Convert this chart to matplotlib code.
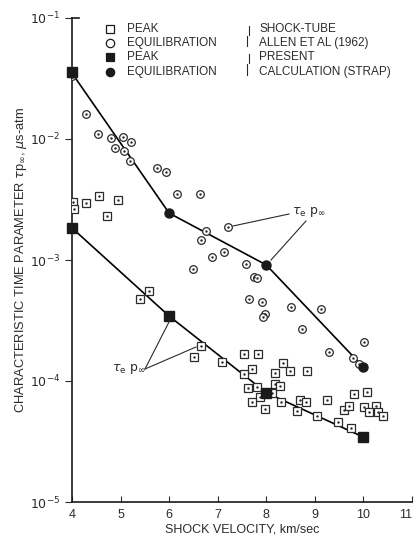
import matplotlib.pyplot as plt
import numpy as np
from matplotlib.lines import Line2D

plt.rcParams['font.family'] = ['Liberation Sans', 'DejaVu Sans']
plt.rcParams['mathtext.fontset'] = 'dejavusans'

ink = '#2b2b2b'

# shock-tube data, Allen et al (1962)
eq_v = [4.0, 4.28, 4.53, 4.80, 5.04, 5.21, 4.89, 5.08, 5.19, 5.74, 5.93,
        6.16, 6.64, 7.22, 6.76, 6.65, 7.12, 6.88, 6.49, 7.58, 7.75, 7.80,
        7.64, 7.91, 8.50, 9.13, 7.97, 7.93, 8.74, 10.01, 9.29, 9.79, 9.91]
eq_t = [0.033, 0.016, 0.0111, 0.0101, 0.0103, 0.0095, 0.0085, 0.0080, 0.0066,
        0.0058, 0.0053, 0.0035, 0.0035, 0.00186, 0.00175, 0.00146, 0.00117,
        0.00105, 0.00084, 0.00093, 0.00073, 0.00071, 0.00048, 0.00045,
        0.00041, 0.00039, 0.00036, 0.00034, 0.00027, 0.00021, 0.000175,
        0.000154, 0.000137]

pk_v = [4.03, 4.04, 4.29, 4.56, 4.95, 4.73, 5.59, 5.41, 6.66, 6.51, 7.54, 7.82,
        7.08, 7.71, 7.55, 8.34, 8.17, 8.49, 8.83, 7.63, 7.80, 8.17, 8.28, 7.87,
        8.12, 7.71, 8.30, 7.97, 8.69, 8.82, 8.64, 9.26, 9.04, 9.48, 9.74, 9.81,
        10.08, 9.61, 9.71, 10.02, 10.26, 10.12, 10.31, 10.40]
pk_t = [0.00303, 0.00262, 0.00294, 0.0034, 0.00313, 0.00231, 0.000554, 0.000476,
        0.000195, 0.000159, 0.000167, 0.000166, 0.000143, 0.000126, 0.000114,
        0.00014, 0.000117, 0.000121, 0.000122, 8.7e-5, 9.0e-5, 9.4e-5, 9.1e-5,
        7.4e-5, 7.9e-5, 6.7e-5, 6.75e-5, 5.9e-5, 7.0e-5, 6.75e-5, 5.65e-5,
        7.0e-5, 5.14e-5, 4.61e-5, 4.11e-5, 7.8e-5, 8.06e-5, 5.75e-5, 6.2e-5,
        6.14e-5, 6.25e-5, 5.58e-5, 5.58e-5, 5.14e-5]

# present calculation (STRAP)
calc_v = [4, 6, 8, 10]
calc_eq = [0.035, 0.00244, 0.00091, 0.00013]
calc_pk = [0.00184, 0.000344, 8.0e-5, 3.44e-5]
# filled square drawn on top of the first equilibration point
top_v = [4]
top_t = [0.036]

fig = plt.figure(figsize=(4.15, 5.37), dpi=100)
W, H = 415.0, 537.0
ax = fig.add_axes([72 / W, 1 - 502 / H, 340 / W, 484 / H])

def fx(px):
    return px / W

def fy(py):
    return 1 - py / H

ax.plot(calc_v, calc_eq, color='black', lw=1.2, zorder=3)
ax.plot(calc_v, calc_pk, color='black', lw=1.2, zorder=3)

ax.plot(eq_v, eq_t, 'o', ms=5.5, mfc='white', mec=ink, mew=0.9, ls='none', zorder=4)
ax.plot(eq_v, eq_t, '.', ms=1.5, color=ink, ls='none', zorder=5)
ax.plot(pk_v, pk_t, 's', ms=5.5, mfc='white', mec=ink, mew=0.9, ls='none', zorder=4)
ax.plot(pk_v, pk_t, '.', ms=1.5, color=ink, ls='none', zorder=5)

ax.plot(calc_v, calc_eq, 'o', ms=6.5, color='#1a1a1a', ls='none', zorder=6, clip_on=False)
ax.plot(calc_v, calc_pk, 's', ms=6.5, color='#1a1a1a', ls='none', zorder=6, clip_on=False)
ax.plot(top_v, top_t, 's', ms=6.5, color='#1a1a1a', ls='none', zorder=7, clip_on=False)

ax.set_yscale('log')
ax.set_xlim(4, 11)
ax.set_ylim(1e-5, 1e-1)
ax.set_xticks(range(4, 12))
ax.set_yticks([1e-5, 1e-4, 1e-3, 1e-2, 1e-1])
ax.set_yticklabels([r'$10^{-5}$', r'$10^{-4}$', r'$10^{-3}$', r'$10^{-2}$', r'$10^{-1}$'])
ax.yaxis.set_minor_locator(plt.NullLocator())
ax.spines['top'].set_visible(False)
ax.spines['right'].set_visible(False)
for s in ['left', 'bottom']:
    ax.spines[s].set_linewidth(1.2)
    ax.spines[s].set_color('#1a1a1a')
ax.tick_params(axis='x', direction='in', length=4, labelsize=9, colors=ink, pad=5)
ax.tick_params(axis='y', direction='out', length=5, labelsize=9, colors=ink)
ax.get_xticklabels()[-1].set_horizontalalignment('right')
ax.plot([4, 4.15], [0.1, 0.1], color='#1a1a1a', lw=1.2, clip_on=False)

ax.set_xlabel('SHOCK VELOCITY, km/sec', fontsize=9, color=ink, labelpad=2)
ax.set_ylabel(r'CHARACTERISTIC TIME PARAMETER $\tau$p$_\infty$, $\mu$s-atm',
              fontsize=9.3, color=ink)
ax.yaxis.set_label_coords(-0.125, 0.5)

# legend drawn by hand
rows = [29, 43, 57, 72]
leg_text = ['PEAK', 'EQUILIBRATION', 'PEAK', 'EQUILIBRATION']
leg_mark = [('s', 'white'), ('o', 'white'), ('s', '#1a1a1a'), ('o', '#1a1a1a')]
for r, t, (m, fc) in zip(rows, leg_text, leg_mark):
    fig.add_artist(Line2D([fx(110)], [fy(r)], marker=m, ms=6, mfc=fc,
                          mec='#1a1a1a', mew=0.9, ls='none'))
    fig.text(fx(127), fy(r), t, fontsize=8.5, color=ink, va='center')
src_text = ['SHOCK-TUBE', 'ALLEN ET AL (1962)', 'PRESENT', 'CALCULATION (STRAP)']
for r, t in zip(rows, src_text):
    fig.text(fx(259), fy(r), t, fontsize=8.5, color=ink, va='center')
for a, b, xo in [(26, 35, 249), (36, 46, 247), (54, 63, 249), (64, 75, 247)]:
    fig.add_artist(Line2D([fx(xo), fx(xo)], [fy(a), fy(b)], color=ink, lw=0.8))

# labels with leaders
fig.text(fx(292), fy(212), r'$\tau_{\rm e}\ \rm p_\infty$', fontsize=9, color=ink, va='center')
fig.add_artist(Line2D([fx(289), fx(233)], [fy(214), fy(226)], color=ink, lw=0.8))
fig.add_artist(Line2D([fx(306), fx(271)], [fy(221), fy(260)], color=ink, lw=0.8))

fig.text(fx(112), fy(369), r'$\tau_{\rm e}\ \rm p_\infty$', fontsize=9, color=ink, va='center')
fig.add_artist(Line2D([fx(145), fx(170)], [fy(369), fy(320)], color=ink, lw=0.8))
fig.add_artist(Line2D([fx(145), fx(196)], [fy(369), fy(347)], color=ink, lw=0.8))

fig.savefig('out.png', dpi=100, facecolor='white')
